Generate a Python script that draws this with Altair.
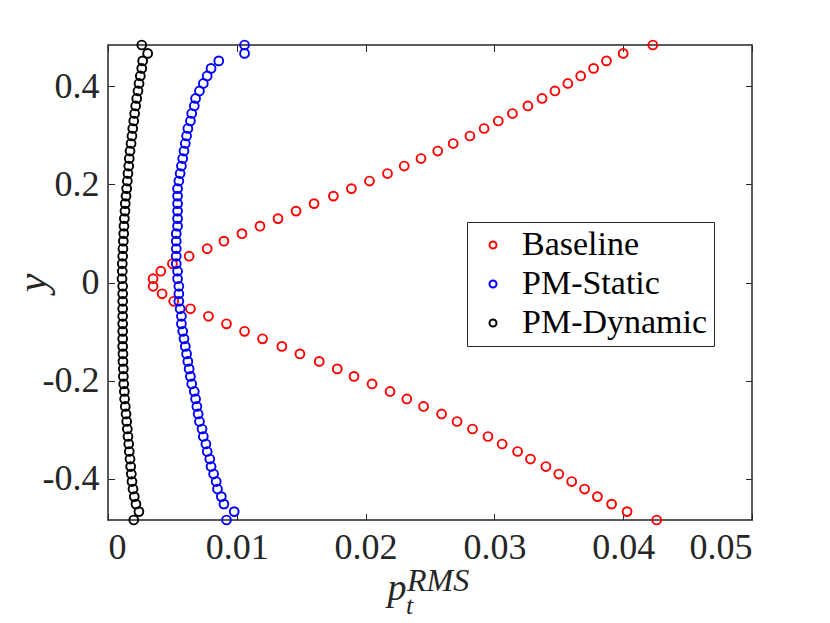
import altair as alt
import pandas as pd

# y grid (bottom to top)
Y = [-0.4844, -0.4673, -0.4520, -0.4367, -0.4213, -0.4060, -0.3907, -0.3754,
     -0.3601, -0.3447, -0.3294, -0.3141, -0.2988, -0.2835, -0.2681, -0.2528,
     -0.2375, -0.2222, -0.2069, -0.1915, -0.1762, -0.1609, -0.1456, -0.1303,
     -0.1149, -0.0996, -0.0843, -0.0690, -0.0537, -0.0383, -0.0230, -0.0077,
     0.0077, 0.0230, 0.0383, 0.0537, 0.0690, 0.0843, 0.0996, 0.1149,
     0.1303, 0.1456, 0.1609, 0.1762, 0.1915, 0.2069, 0.2222, 0.2375,
     0.2528, 0.2681, 0.2835, 0.2988, 0.3141, 0.3294, 0.3447, 0.3601,
     0.3754, 0.3907, 0.4060, 0.4213, 0.4367, 0.4520, 0.4673, 0.4844]

BASELINE = [0.0426, 0.0403, 0.0391, 0.0380, 0.0370, 0.0360, 0.0350, 0.0340,
            0.0328, 0.0318, 0.0306, 0.0295, 0.0283, 0.0271, 0.0259, 0.0245,
            0.0232, 0.0219, 0.0205, 0.0191, 0.0178, 0.0164, 0.0149, 0.0135,
            0.0120, 0.0106, 0.0092, 0.0078, 0.0064, 0.0051, 0.0042, 0.0035,
            0.0035, 0.0041, 0.0050, 0.0063, 0.0077, 0.0090, 0.0104, 0.0118,
            0.0132, 0.0146, 0.0160, 0.0175, 0.0189, 0.0203, 0.0217, 0.0230,
            0.0243, 0.0256, 0.0268, 0.0281, 0.0292, 0.0303, 0.0314, 0.0326,
            0.0337, 0.0347, 0.0357, 0.0367, 0.0377, 0.0387, 0.0400, 0.0423]

PM_STATIC = [0.0092, 0.0098, 0.0090, 0.0088, 0.0085, 0.0084, 0.0082, 0.0080,
             0.0079, 0.0077, 0.0076, 0.0074, 0.0073, 0.0071, 0.0070, 0.0069,
             0.0068, 0.0067, 0.0065, 0.0064, 0.0063, 0.0062, 0.0061, 0.0060,
             0.0059, 0.0058, 0.0057, 0.0057, 0.0056, 0.0055, 0.0055, 0.0055,
             0.0054, 0.0054, 0.0053, 0.0053, 0.0053, 0.0053, 0.0053, 0.0054,
             0.0054, 0.0054, 0.0054, 0.0054, 0.0054, 0.0055, 0.0056, 0.0057,
             0.0058, 0.0059, 0.0060, 0.0061, 0.0062, 0.0064, 0.0065, 0.0067,
             0.0068, 0.0071, 0.0074, 0.0077, 0.0080, 0.0086, 0.0106, 0.0106]

PM_DYNAMIC = [0.00200, 0.00240, 0.00217, 0.00204, 0.00194, 0.00186, 0.00181, 0.00176,
              0.00171, 0.00165, 0.00161, 0.00155, 0.00150, 0.00145, 0.00140, 0.00134,
              0.00129, 0.00127, 0.00122, 0.00119, 0.00119, 0.00116, 0.00116, 0.00114,
              0.00114, 0.00114, 0.00114, 0.00114, 0.00114, 0.00114, 0.00114, 0.00114,
              0.00109, 0.00111, 0.00111, 0.00114, 0.00116, 0.00119, 0.00122, 0.00124,
              0.00127, 0.00132, 0.00134, 0.00140, 0.00145, 0.00150, 0.00155, 0.00161,
              0.00165, 0.00171, 0.00179, 0.00186, 0.00192, 0.00200, 0.00207, 0.00215,
              0.00223, 0.00233, 0.00241, 0.00251, 0.00262, 0.00269, 0.00308, 0.00262]

SERIES = ["Baseline", "PM-Static", "PM-Dynamic"]
COLORS = ["#ff0000", "#0000ff", "#000000"]
X_TICKS = [0, 0.01, 0.02, 0.03, 0.04, 0.05]
Y_TICKS = [-0.4, -0.2, 0, 0.2, 0.4]

rows = []
i = 0
for name, xs in zip(SERIES, [BASELINE, PM_STATIC, PM_DYNAMIC]):
    for xv, yv in zip(xs, Y):
        rows.append({"x": xv, "y": yv, "series": name, "idx": i})
        i += 1
df = pd.DataFrame(rows)
one = pd.DataFrame({"k": [0]})

FONT = "Liberation Serif"
AX = "#262626"
TICK = 6.5

xscale = alt.Scale(domain=[0, 0.05], nice=False, zero=False)
yscale = alt.Scale(domain=[-0.4844, 0.4844], nice=False, zero=False)

xlab = "datum.value == 0 ? '0' : format(datum.value, '.2f')"
ylab = "datum.value == 0 ? '0' : (datum.value < 0 ? '-' : '') + format(abs(datum.value), '.1f')"

ax_bottom = alt.Axis(orient="bottom", values=X_TICKS, labelExpr=xlab, domain=False, grid=False,
                     tickSize=TICK, offset=-TICK, tickColor=AX, tickWidth=1,
                     labelFont=FONT, labelFontSize=36, labelColor=AX, labelPadding=10,
                     title=None)
ax_left = alt.Axis(orient="left", values=Y_TICKS, labelExpr=ylab, domain=False, grid=False,
                   tickSize=TICK, offset=-TICK, tickColor=AX, tickWidth=1,
                   labelFont=FONT, labelFontSize=36, labelColor=AX, labelPadding=9,
                   title="y", titleFont=FONT, titleFontStyle="italic", titleFontWeight="normal",
                   titleFontSize=42, titleColor=AX, titleX=-82, titleY=237.5,
                   titleAngle=270, titleAlign="center", titleBaseline="middle")
ax_top = alt.Axis(orient="top", values=X_TICKS, labels=False, domain=False, grid=False,
                  tickSize=TICK, offset=-TICK, tickColor=AX, tickWidth=1, title=None)
ax_right = alt.Axis(orient="right", values=Y_TICKS, labels=False, domain=False, grid=False,
                    tickSize=TICK, offset=-TICK, tickColor=AX, tickWidth=1, title=None)

legend = alt.Legend(orient="none", legendX=359, legendY=177, title=None,
                    labelFont=FONT, labelFontSize=34, labelColor="#000000", labelLimit=400,
                    strokeColor=AX, fillColor="white", padding=6, rowPadding=5,
                    symbolType="circle", symbolSize=49, symbolStrokeWidth=2,
                    symbolOffset=3, labelOffset=12)

points = alt.Chart(df).mark_point(filled=False, size=78, strokeWidth=1.9, opacity=1).encode(
    x=alt.X("x:Q", scale=xscale, axis=ax_bottom),
    y=alt.Y("y:Q", scale=yscale, axis=ax_left),
    color=alt.Color("series:N", scale=alt.Scale(domain=SERIES, range=COLORS), legend=legend),
    order=alt.Order("idx:Q"),
)

ghost = alt.Chart(df).mark_point(opacity=0).encode(
    x=alt.X("x:Q", scale=xscale, axis=ax_top),
    y=alt.Y("y:Q", scale=yscale, axis=ax_right),
)

t_p = alt.Chart(one).mark_text(text="p", font=FONT, fontStyle="italic", fontSize=38,
                               color=AX, align="center", baseline="alphabetic").encode(
    x=alt.value(289), y=alt.value(555))
t_sub = alt.Chart(one).mark_text(text="t", font=FONT, fontStyle="italic", fontSize=26,
                                 color=AX, align="left", baseline="alphabetic").encode(
    x=alt.value(298), y=alt.value(569))
t_sup = alt.Chart(one).mark_text(text="RMS", font=FONT, fontStyle="italic", fontSize=32,
                                 color=AX, align="left", baseline="alphabetic").encode(
    x=alt.value(299), y=alt.value(546))

chart = alt.layer(points, ghost, t_p, t_sub, t_sup).resolve_axis(
    x="independent", y="independent"
).properties(
    width=644, height=475,
    autosize=alt.AutoSizeParams(type="none"),
    padding={"left": 100, "top": 37, "right": 70, "bottom": 102},
    background="white",
).configure_view(
    stroke=AX, strokeWidth=1.5, strokeOpacity=1
)

chart.save("out.html", embed_options={"renderer": "svg", "actions": False})
